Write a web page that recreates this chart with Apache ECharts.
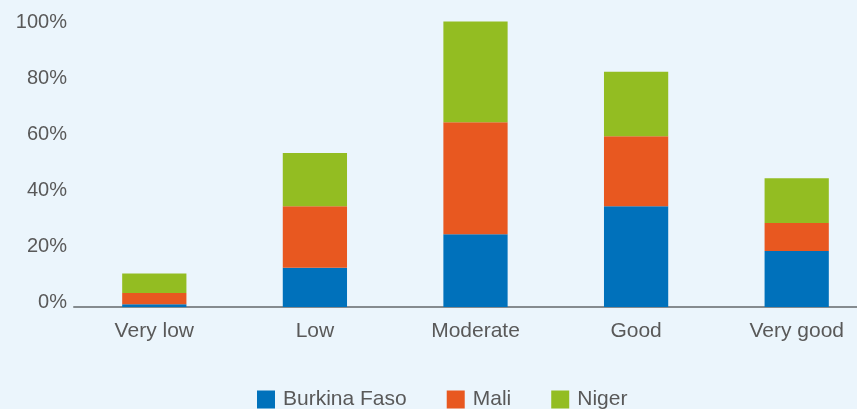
<!DOCTYPE html>
<html>
<head>
<meta charset="utf-8">
<script src="https://cdn.jsdelivr.net/npm/echarts@6/dist/echarts.min.js"></script>
<style>
  html, body { margin: 0; padding: 0; background: #ebf5fc; }
  #chart { width: 857px; height: 409px; }
</style>
</head>
<body>
<div id="chart"></div>
<script>
const categories = ['Very low', 'Low', 'Moderate', 'Good', 'Very good']
const burkinaFaso = [1, 14, 26, 36, 20]
const mali = [4, 22, 40, 25, 10]
const niger = [7, 19, 36, 23, 16]
const yTicks = [0, 20, 40, 60, 80, 100]

const textColor = '#595959'
const myChart = echarts.init(document.getElementById('chart'))

function barSeries(name, data, color) {
  return {
    name: name,
    type: 'bar',
    stack: 'total',
    barWidth: '40%',
    clip: false,
    itemStyle: { color: color },
    data: data,
  }
}

const option = {
  backgroundColor: '#ebf5fc',
  animation: false,
  textStyle: { fontFamily: 'Liberation Sans, Arial, sans-serif' },
  grid: {
    left: 74,
    width: 803,
    top: 27,
    bottom: 102,
    outerBoundsMode: 'none',
    containLabel: false,
  },
  legend: {
    bottom: -6,
    left: 252,
    itemWidth: 18,
    itemHeight: 18,
    itemGap: 40,
    icon: 'rect',
    textStyle: { color: textColor, fontSize: 21, padding: [0, 0, 0, 3] },
    data: ['Burkina Faso', 'Mali', 'Niger'],
  },
  xAxis: {
    type: 'category',
    data: categories,
    axisLine: { lineStyle: { color: '#858b8f', width: 2 } },
    axisTick: { show: false },
    axisLabel: { color: textColor, fontSize: 21, margin: 14 },
  },
  yAxis: {
    type: 'value',
    min: yTicks[0],
    max: yTicks[yTicks.length - 1],
    interval: yTicks[1] - yTicks[0],
    splitLine: { show: false },
    axisLine: { show: false },
    axisTick: { show: false },
    axisLabel: {
      color: textColor,
      fontSize: 20,
      margin: 7,
      verticalAlign: 'bottom',
      lineHeight: 9,
      formatter: '{value}%',
    },
  },
  series: [
    barSeries('Burkina Faso', burkinaFaso, '#0071bb'),
    barSeries('Mali', mali, '#e85820'),
    barSeries('Niger', niger, '#93bd22'),
  ],
}

myChart.setOption(option)
</script>
</body>
</html>
